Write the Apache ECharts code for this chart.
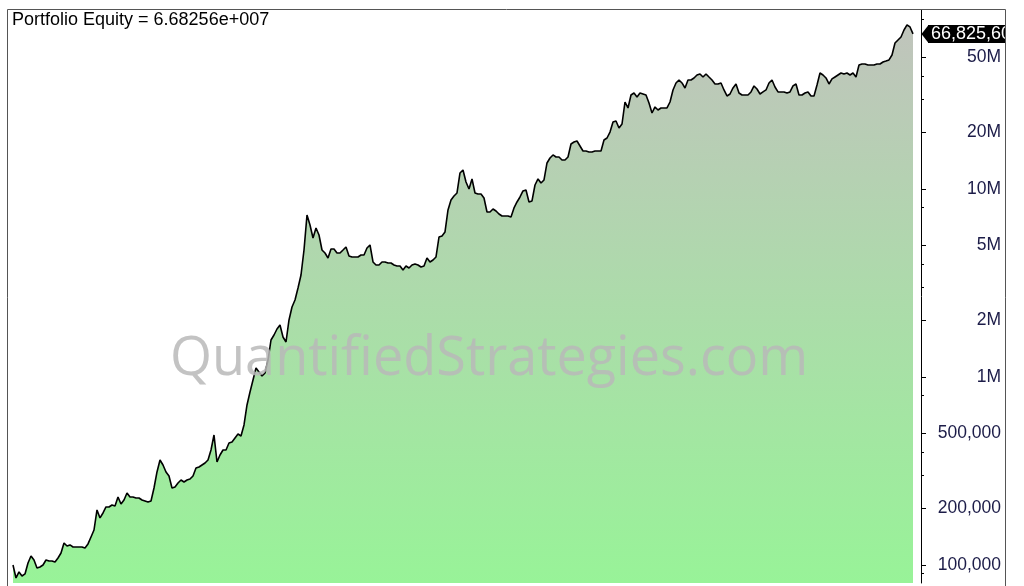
<!DOCTYPE html>
<html><head><meta charset="utf-8">
<script src="https://cdn.jsdelivr.net/npm/echarts@6/dist/echarts.min.js"></script>
<style>html,body{margin:0;padding:0;background:#fff}#c{width:1024px;height:586px}</style>
</head><body><div id="c"></div>
<script>
const titleText = 'Portfolio Equity = 6.68256e+007';
const watermarkText = 'QuantifiedStrategies.com';
const equity = [
100000,85300,91800,87400,89600,102500,111600,106300,96400,97600,
100000,106300,105000,105000,103700,108900,115800,131000,126200,127800,
124700,124700,124700,124700,123200,129400,140900,153500,196200,177900,
189100,203500,203500,208500,206000,230000,211100,221700,241500,230000,
230000,227200,227200,221700,219000,216300,219000,256800,312500,361800,
340400,312500,297400,256800,260000,273000,283200,276300,283200,286700,
297400,328100,332200,340400,348800,361800,409000,491400,353000,384700,
409000,409000,445600,451100,473800,497400,485400,555600,709800,832500,
963900,1116500,1063100,1012300,1050200,1231000,1573000,1672000,1800000,1891000,
1632000,1535000,2010000,2357000,2568000,2975000,3487000,4736000,7271000,6435000,
5488000,6202000,5692000,4736000,4566000,4295000,4794000,4794000,4566000,4566000,
4736000,4914000,4402000,4348000,4348000,4348000,4456000,4456000,4853000,5036000,
4090000,3942000,3942000,4090000,4090000,4040000,4040000,3942000,3894000,3894000,
3708000,3894000,3800000,3942000,3990000,3942000,3847000,3894000,4295000,4090000,
4191000,4348000,5554000,5623000,5906000,7733000,8740000,9179000,9522000,12170000,
12620000,10900000,10000000,11310000,9522000,9406000,9406000,8957000,7546000,7546000,
7828000,7639000,7360000,7183000,7183000,7183000,7095000,7925000,8529000,9067000,
9759000,9879000,8529000,8634000,10500000,11310000,10760000,11170000,13750000,14620000,
15170000,14800000,14800000,14270000,14270000,14800000,17350000,17780000,18000000,16930000,
15920000,15920000,15730000,15730000,15920000,15920000,15920000,18220000,18670000,20090000,
22720000,23000000,21100000,22160000,29020000,26970000,31620000,32400000,30860000,32400000,
32010000,31620000,28670000,25360000,27300000,26320000,26970000,26970000,26970000,29020000,
33630000,36640000,38010000,36640000,34460000,38010000,38010000,38950000,40410000,40910000,
39430000,40910000,39430000,38010000,36190000,36190000,36640000,33630000,31240000,32010000,
34460000,36190000,32400000,31620000,31620000,31620000,32820000,35320000,34040000,32010000,
32820000,33630000,36640000,38010000,34880000,32820000,32820000,32820000,32400000,32820000,
35320000,36190000,31620000,31620000,32400000,32820000,31240000,31240000,35750000,41410000,
40410000,38950000,36190000,38480000,39430000,40410000,41410000,40910000,41410000,40410000,
41410000,39430000,45660000,46220000,46220000,45660000,45660000,45660000,46220000,46220000,
47370000,47950000,48560000,51620000,59790000,62030000,64350000,70110000,74550000,72750000,
66825600
];
const categories = equity.map((_, i) => 'Bar ' + (i + 1));
const labelTicks = [1e5, 2e5, 5e5, 1e6, 2e6, 5e6, 1e7, 2e7, 5e7];
const minorTicks = [8e4, 9e4, 3e5, 4e5, 8e5, 3e6, 4e6, 8e6, 3e7, 4e7, 8e7];
const axisMin = 80200, axisMax = 89540000;

const fmtAxis = v => v >= 1e6 ? (Math.round(v / 1e6)) + 'M' : Math.round(v).toLocaleString('en-US');
const lastIdx = equity.length - 1;

const chart = echarts.init(document.getElementById('c'), null, {renderer: 'canvas'});
chart.setOption({
  animation: false,
  backgroundColor: '#fff',
  title: {
    text: titleText, left: 12, top: 11, padding: 0,
    textStyle: {fontFamily: 'Liberation Sans', fontSize: 18, fontWeight: 'normal', color: '#000'}
  },
  grid: {left: 13, right: 111, top: 10, bottom: 3, containLabel: false},
  xAxis: {
    type: 'category', data: categories, boundaryGap: false,
    axisLine: {show: false}, axisTick: {show: false}, axisLabel: {show: false}, splitLine: {show: false}
  },
  yAxis: [{
    type: 'log', logBase: 10, min: axisMin, max: axisMax, position: 'right', offset: 8,
    axisLine: {show: true, lineStyle: {color: '#000', width: 1}},
    axisTick: {show: true, length: 5, customValues: labelTicks, lineStyle: {color: '#000'}},
    axisLabel: {
      show: true, customValues: labelTicks, formatter: fmtAxis, align: 'right', margin: 80,
      fontFamily: 'Liberation Sans', fontSize: 17.5, color: '#1c1c48'
    },
    splitLine: {show: false}
  }, {
    type: 'log', logBase: 10, min: axisMin, max: axisMax, position: 'right', offset: 8,
    axisLine: {show: false},
    axisTick: {show: true, length: 3, customValues: minorTicks, lineStyle: {color: '#000'}},
    axisLabel: {show: false}, splitLine: {show: false}
  }],
  series: [{
    type: 'line', data: equity, yAxisIndex: 0, symbol: 'none', showSymbol: false,
    lineStyle: {color: '#000', width: 1.6},
    areaStyle: {
      origin: 'start', opacity: 1,
      color: new echarts.graphic.LinearGradient(0, 0, 0, 1, [
        {offset: 0, color: '#c0c4bc'},
        {offset: 1, color: '#98f398'}
      ])
    },
    endLabel: {
      show: true, distance: 15,
      formatter: p => Math.round(p.value).toLocaleString('en-US'),
      backgroundColor: '#000', color: '#fff', fontFamily: 'Liberation Sans', fontSize: 18,
      lineHeight: 18, padding: [0, 3]
    },
    markPoint: {
      silent: true, animation: false,
      data: [{
        coord: [categories[lastIdx], equity[lastIdx]],
        symbol: 'path://M0,9L7,0L7,18Z', symbolSize: [7, 18], symbolOffset: [12, 0],
        itemStyle: {color: '#000'}, label: {show: false}
      }]
    }
  }],
  graphic: [
    {type: 'text', z: 100, left: 170, top: 333, style: {
      text: watermarkText, fill: 'rgba(185,185,185,0.85)', font: '54px "Open Sans"'
    }},
    {type: 'rect', z: 120, shape: {x: 1006, y: 0, width: 18, height: 586}, style: {fill: '#fff'}},
    {type: 'polyline', z: 130, shape: {points: [[7.5, 586], [7.5, 9.5], [1005.5, 9.5], [1005.5, 586]]},
      style: {stroke: '#555', lineWidth: 1, fill: null}}
  ]
});
</script>
</body></html>
